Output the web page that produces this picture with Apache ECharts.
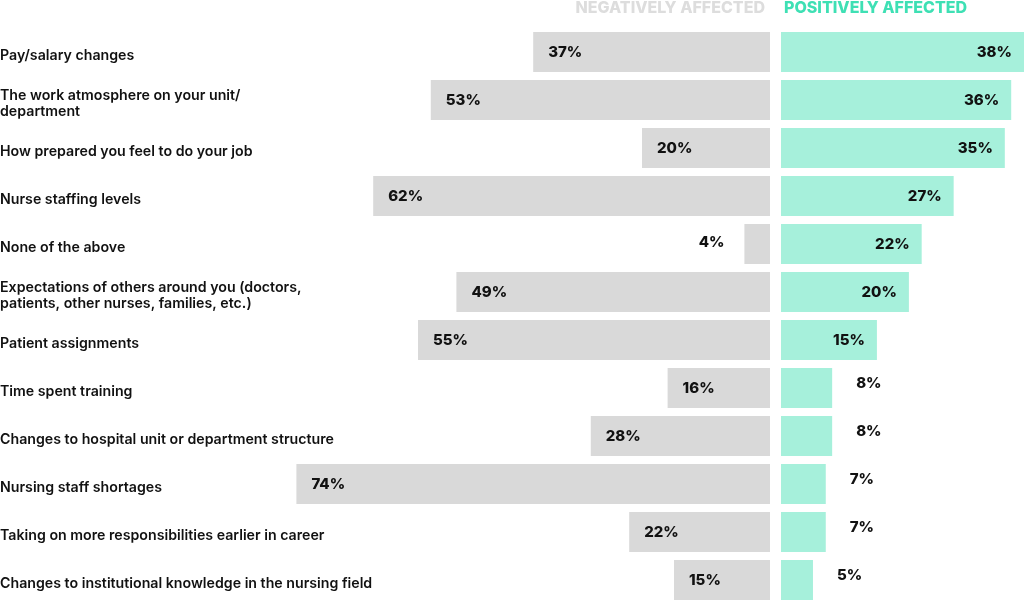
<!DOCTYPE html>
<html>
<head>
    <meta charset="utf-8">
    <script src="https://cdn.jsdelivr.net/npm/echarts@6/dist/echarts.min.js"></script>
    <style>
        html, body { margin: 0; padding: 0; background: #fff; }
        #container { width: 1025px; height: 607px; }
    </style>
</head>
<body>
<div id="container"></div>
<script>
    var categories = [
        'Pay/salary changes',
        'The work atmosphere on your unit/\ndepartment',
        'How prepared you feel to do your job',
        'Nurse staffing levels',
        'None of the above',
        'Expectations of others around you (doctors,\npatients, other nurses, families, etc.)',
        'Patient assignments',
        'Time spent training',
        'Changes to hospital unit or department structure',
        'Nursing staff shortages',
        'Taking on more responsibilities earlier in career',
        'Changes to institutional knowledge in the nursing field'
    ];
    var negative = [37, 53, 20, 62, 4, 49, 55, 16, 28, 74, 22, 15];
    var positive = [38, 36, 35, 27, 22, 20, 15, 8, 8, 7, 7, 5];

    var labelFont = {
        fontFamily: 'Inter',
        fontSize: 15,
        fontWeight: 800,
        color: '#111'
    };

    // small bars get the label outside
    var negData = negative.map(function (v) {
        var inside = v >= 10;
        return {
            value: v,
            label: inside
                ? { position: 'insideLeft', distance: 15 }
                : { position: 'left', distance: 20, offset: [0, -2] }
        };
    });
    var posData = positive.map(function (v) {
        var inside = v >= 10;
        return {
            value: v,
            label: inside
                ? { position: 'insideRight', distance: 12 }
                : { position: 'right', distance: 24, offset: [0, -5] }
        };
    });

    var myChart = echarts.init(document.getElementById('container'));
    var option = {
        animation: false,
        graphic: [
            {
                type: 'text', right: 260, top: 0,
                style: {
                    text: 'NEGATIVELY AFFECTED',
                    font: '800 16px Inter',
                    fill: '#dddddd'
                }
            },
            {
                type: 'text', left: 784, top: 0,
                style: {
                    text: 'POSITIVELY AFFECTED',
                    font: '800 16px Inter',
                    fill: '#3ee0b4'
                }
            }
        ],
        grid: [
            { left: 130, right: 255, top: 28, bottom: 3, outerBoundsMode: 'none', containLabel: false },
            { left: 781, right: 1, top: 28, bottom: 3, outerBoundsMode: 'none', containLabel: false },
            // label-only grid, sits a few px lower than the bars
            { left: 0, right: 255, top: 32, bottom: -1, outerBoundsMode: 'none', containLabel: false }
        ],
        xAxis: [
            { gridIndex: 0, type: 'value', min: 0, max: 100, inverse: true, show: false },
            { gridIndex: 1, type: 'value', min: 0, max: 38, show: false },
            { gridIndex: 2, type: 'value', min: 0, max: 100, show: false }
        ],
        yAxis: [
            {
                gridIndex: 0, type: 'category', data: categories, inverse: true,
                show: false
            },
            {
                gridIndex: 1, type: 'category', data: categories, inverse: true,
                show: false
            },
            {
                gridIndex: 2, type: 'category', data: categories, inverse: true,
                position: 'left',
                axisLine: { show: false }, axisTick: { show: false },
                axisLabel: {
                    align: 'left', margin: 0,
                    fontFamily: 'Inter', fontSize: 14.2, fontWeight: 600,
                    color: '#111', lineHeight: 16
                }
            }
        ],
        series: [
            {
                name: 'Negatively affected', type: 'bar',
                xAxisIndex: 0, yAxisIndex: 0,
                data: negData, barWidth: 40,
                itemStyle: { color: '#d9d9d9' },
                label: Object.assign({ show: true, formatter: '{c}%' }, labelFont)
            },
            {
                name: 'Positively affected', type: 'bar',
                xAxisIndex: 1, yAxisIndex: 1,
                data: posData, barWidth: 40,
                itemStyle: { color: '#a6f0db' },
                label: Object.assign({ show: true, formatter: '{c}%' }, labelFont)
            }
        ]
    };
    myChart.setOption(option);
</script>
</body>
</html>
